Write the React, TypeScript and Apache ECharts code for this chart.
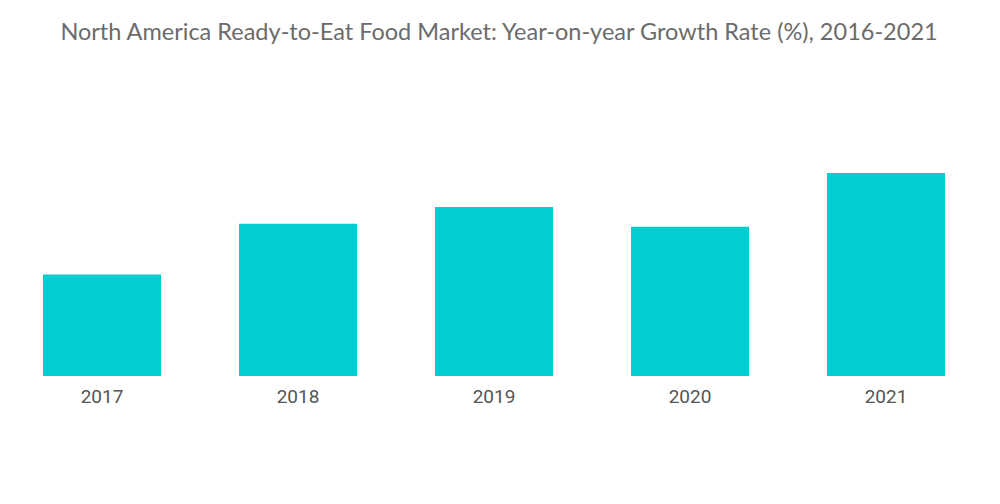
import React, { useEffect, useRef } from "react";
import * as echarts from "echarts";

const categories = ["2017", "2018", "2019", "2020", "2021"];
const growthValues = [2.0, 3.0, 3.33, 2.94, 4.0];
const titleText = "North America Ready-to-Eat Food Market: Year-on-year Growth Rate (%), 2016-2021";

export default function App() {
  const ref = useRef<HTMLDivElement>(null);
  useEffect(() => {
    if (!ref.current) return;
    const chart = echarts.init(ref.current, null, { renderer: "svg" });
    chart.setOption({
      animation: false,
      backgroundColor: "#ffffff",
      title: {
        text: titleText,
        left: 494,
        textAlign: "center",
        top: 14,
        textStyle: {
          fontFamily: "Lato",
          fontWeight: "normal",
          fontSize: 23.5,
          color: "#6b6b6b",
        },
      },
      grid: { left: 4, right: 16, top: 173, bottom: 128 },
      xAxis: {
        type: "category",
        data: categories,
        axisLine: { show: false },
        axisTick: { show: false },
        axisLabel: {
          fontFamily: "Roboto",
          fontSize: 19,
          color: "#555555",
          margin: 11,
        },
      },
      yAxis: {
        type: "value",
        min: 0,
        max: 4,
        show: false,
        splitLine: { show: false },
      },
      series: [
        {
          type: "bar",
          data: growthValues,
          barWidth: 118,
          itemStyle: { color: "#00CED1" },
        },
      ],
    });
    return () => chart.dispose();
  }, []);
  return (
    <div
      ref={ref}
      style={{ position: "fixed", left: 0, top: 0, width: 1000, height: 504 }}
    />
  );
}
